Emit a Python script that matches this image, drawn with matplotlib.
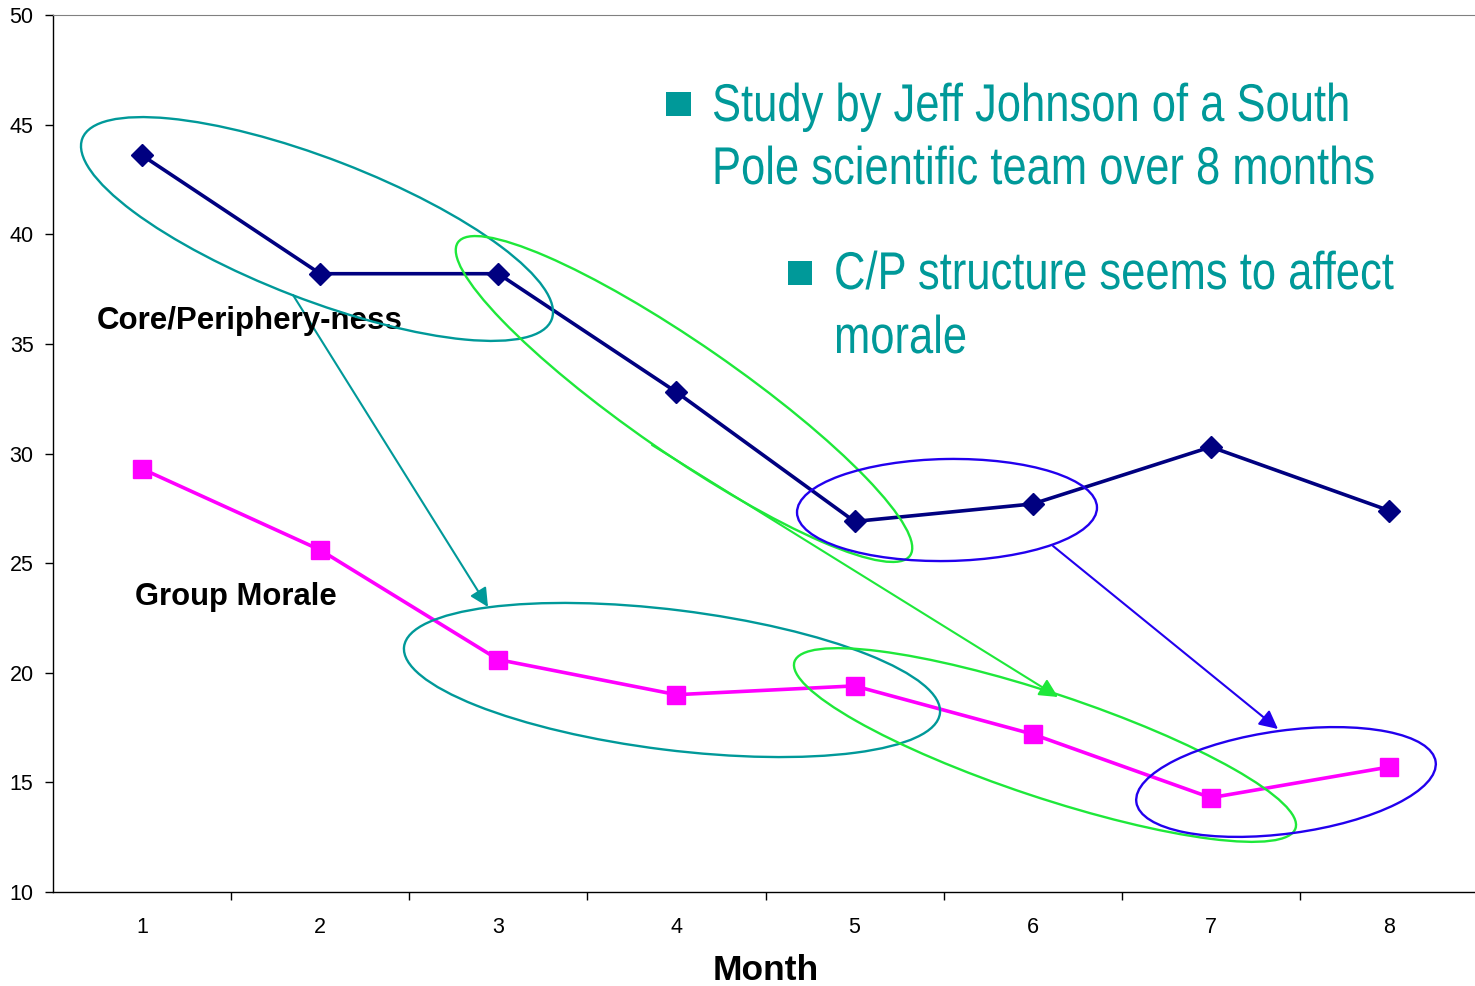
import matplotlib
matplotlib.use("Agg")
import matplotlib.pyplot as plt
from matplotlib import font_manager
from matplotlib.patches import Ellipse, Rectangle, PathPatch
from matplotlib.transforms import Affine2D
from matplotlib.textpath import TextPath
from matplotlib.font_manager import FontProperties

# ---------------- data ----------------
months = [1, 2, 3, 4, 5, 6, 7, 8]
core_periphery = [43.6, 38.2, 38.2, 32.8, 26.9, 27.7, 30.3, 27.4]
group_morale = [29.3, 25.6, 20.6, 19.0, 19.4, 17.2, 14.3, 15.7]
y_ticks = [10, 15, 20, 25, 30, 35, 40, 45, 50]
x_label = "Month"
series_labels = ["Core/Periphery-ness", "Group Morale"]
bullet_lines_1 = ["Study by Jeff Johnson of a South", "Pole scientific team over 8 months"]
bullet_lines_2 = ["C/P structure seems to affect", "morale"]

W, H = 1475, 986
plt.rcParams['font.family'] = ['Liberation Sans', 'DejaVu Sans']
fig = plt.figure(figsize=(W / 100, H / 100), dpi=100)
ax = fig.add_axes([53 / W, 1 - 892 / H, (1478 - 53) / W, (892 - 15) / H])

# pixel transform (image coords, y down)
px = Affine2D().scale(1 / W, -1 / H).translate(0, 1) + fig.transFigure

ax.plot(months, core_periphery, color='#000080', lw=2.6, marker='D', ms=11,
        markeredgecolor='#000080', zorder=6, clip_on=False)
ax.plot(months, group_morale, color='#FF00FF', lw=2.6, marker='s', ms=13.5,
        markeredgecolor='#FF00FF', zorder=6, clip_on=False)

ax.set_xlim(0.5, 8.5)
ax.set_ylim(10, 50)
ax.set_yticks(y_ticks)
ax.set_xticks(months)
ax.set_xticks([m + 0.5 for m in months[:-1]], minor=True)
ax.tick_params(axis='x', which='major', length=0, pad=18, labelsize=15.5)
ax.tick_params(axis='x', which='minor', length=6, width=1, direction='out')
ax.tick_params(axis='y', which='major', length=6, width=1, direction='out', pad=8, labelsize=15.5)
ax.spines['right'].set_visible(False)
ax.spines['top'].set_color('#808080')
for s in ('left', 'bottom'):
    ax.spines[s].set_color('black')
    ax.spines[s].set_linewidth(1)

# axis label
fig.text(766, 980, x_label, transform=px, ha='center', va='baseline',
         fontsize=25.5, fontweight='bold')

# series labels
fig.text(97, 329, series_labels[0], transform=px, ha='left', va='baseline',
         fontsize=22.5, fontweight='bold', zorder=3)
fig.text(135, 605, series_labels[1], transform=px, ha='left', va='baseline',
         fontsize=22.3, fontweight='bold', zorder=3)

# ---------------- teal narrow bullet text ----------------
TEAL = '#009999'
try:
    font_manager.findfont(FontProperties(family='Liberation Sans Narrow'), fallback_to_default=False)
    narrow_ok = True
except Exception:
    narrow_ok = False

em_px = 53.1


def narrow_text(x, baseline, s):
    if narrow_ok:
        fig.text(x, baseline, s, transform=px, ha='left', va='baseline',
                 fontsize=em_px * 0.72, color=TEAL, family='Liberation Sans Narrow')
    else:
        tp = TextPath((0, 0), s, size=em_px, prop=FontProperties(family='Liberation Sans'))
        tr = Affine2D().scale(0.82, -1).translate(x, baseline) + px
        fig.patches.append(PathPatch(tp, transform=tr, facecolor=TEAL, edgecolor='none',
                                     figure=fig))


for i, line in enumerate(bullet_lines_1):
    narrow_text(712, 121 + 63 * i, line)
for i, line in enumerate(bullet_lines_2):
    narrow_text(834, 289 + 64 * i, line)

fig.patches.append(Rectangle((666, 92), 25, 24, transform=px, facecolor=TEAL,
                             edgecolor='none', figure=fig))
fig.patches.append(Rectangle((788, 261), 24, 24, transform=px, facecolor=TEAL,
                             edgecolor='none', figure=fig))

# ---------------- ellipses ----------------
GREEN = '#1EE83A'
BLUE = '#2200EE'
ellipses = [
    ((317, 229), 503, 141, 21.1, TEAL),
    ((684, 399), 550, 110, 34.7, GREEN),
    ((947, 510), 300, 102, -1.0, BLUE),
    ((672, 680), 540, 140, 7.1, TEAL),
    ((1045, 745), 528, 104, 18.4, GREEN),
    ((1286, 782), 302, 103, -7.7, BLUE),
]
for c, w, h, a, col in ellipses:
    e = Ellipse(c, w, h, angle=a, transform=px, fill=False, edgecolor=col, lw=1.7,
                zorder=4)
    fig.patches.append(e)

arrows = [
    ((293, 295), (488, 607), TEAL),
    ((652, 445), (1058, 697), GREEN),
    ((1053, 546), (1278, 729), BLUE),
]
for (x0, y0), (x1, y1), col in arrows:
    ax.annotate('', xy=(x1, y1), xycoords=px, xytext=(x0, y0), textcoords=px,
                arrowprops=dict(arrowstyle='-|>', color=col, lw=1.5, mutation_scale=28,
                                shrinkA=0, shrinkB=0), zorder=4, annotation_clip=False)

fig.savefig('out.png', dpi=100)
